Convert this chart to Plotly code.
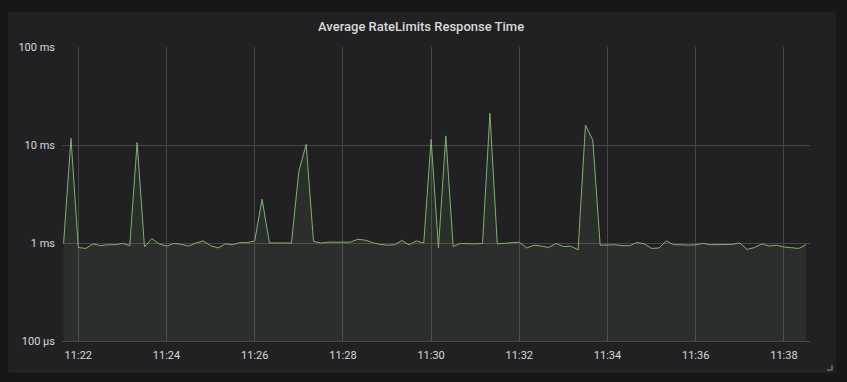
import plotly.graph_objects as go
import pandas as pd

# ---- data ----
start_time = "2019-06-01 11:21:40"
step_seconds = 10
response_ms = [
    1.00, 11.7, 0.90, 0.88, 0.98, 0.94, 0.96, 0.96, 0.99, 0.94,
    10.6, 0.91, 1.11, 0.98, 0.93, 0.99, 0.97, 0.93, 1.00, 1.05,
    0.94, 0.89, 0.98, 0.96, 1.01, 1.01, 1.05, 2.80, 1.00, 1.00,
    1.00, 1.00, 5.35, 10.2, 1.04, 1.00, 1.02, 1.02, 1.02, 1.02,
    1.09, 1.07, 1.01, 0.97, 0.95, 0.96, 1.06, 0.96, 1.05, 1.00,
    11.4, 0.89, 12.4, 0.92, 0.99, 0.98, 0.98, 0.99, 21.0, 0.98,
    0.99, 1.00, 1.02, 0.89, 0.95, 0.93, 0.90, 0.99, 0.92, 0.93,
    0.85, 16.0, 11.2, 0.95, 0.95, 0.96, 0.94, 0.94, 1.01, 0.98,
    0.88, 0.89, 1.05, 0.96, 0.96, 0.95, 0.96, 0.99, 0.96, 0.96,
    0.97, 0.97, 1.00, 0.86, 0.90, 0.98, 0.93, 0.95, 0.91, 0.89,
    0.88, 0.96,
]
times = pd.date_range(start=start_time, periods=len(response_ms), freq=f"{step_seconds}s")

y_tick_vals = [0.1, 1, 10, 100]
y_tick_text = ["100 µs", "1 ms", "10 ms", "100 ms"]
x_range = ["2019-06-01 11:21:37.8", "2019-06-01 11:38:35.5"]
title_text = "Average RateLimits Response Time"

# ---- layout geometry (pixels) ----
W, H = 847, 382
ML, MR, MT, MB = 62, 37, 47, 41
PW, PH = W - ML - MR, H - MT - MB


def px(x):
    return (x - ML) / PW


def py(y):
    return (H - MB - y) / PH


PAGE_BG = "#161719"
PANEL_BG = "#212124"
GRID = "#464648"
TEXT = "#d8d9da"
LINE = "#7eb26d"

fig = go.Figure()
fig.add_trace(go.Scatter(
    x=times, y=[y_tick_vals[0]] * len(times), mode="lines",
    line=dict(width=0, color=LINE), hoverinfo="skip", showlegend=False,
))
fig.add_trace(go.Scatter(
    x=times, y=response_ms, mode="lines",
    line=dict(color=LINE, width=1),
    fill="tonexty", fillcolor="rgba(126,178,109,0.10)",
    showlegend=False,
))

shapes = [
    # panel background
    dict(type="rect", xref="paper", yref="paper", layer="below",
         x0=px(9), x1=px(835), y0=py(372), y1=py(13),
         fillcolor=PANEL_BG, line=dict(color="#262628", width=1)),
    # resize handle corner
    dict(type="path", xref="paper", yref="paper",
         path=f"M {px(827)} {py(370)} L {px(832)} {py(370)} L {px(832)} {py(365)}",
         line=dict(color="#6e6e70", width=1.5)),
]

fig.update_layout(
    width=W, height=H,
    margin=dict(l=ML, r=MR, t=MT, b=MB, pad=0),
    paper_bgcolor=PAGE_BG,
    plot_bgcolor="rgba(0,0,0,0)",
    font=dict(family="Roboto", size=11, color=TEXT),
    shapes=shapes,
    annotations=[dict(
        text=title_text, xref="paper", yref="paper",
        x=px(421), y=py(27), xanchor="center", yanchor="middle",
        showarrow=False, font=dict(family="Roboto", size=13, color=TEXT, weight=500),
    )],
    xaxis=dict(
        type="date", range=x_range,
        tickformat="%H:%M", dtick=120000, tick0="2019-06-01 11:22:00",
        showgrid=True, gridcolor=GRID, gridwidth=1,
        zeroline=False, showline=True, linecolor=GRID, linewidth=1,
        ticks="", tickfont=dict(size=11, color=TEXT),
        ticklabelstandoff=4,
    ),
    yaxis=dict(
        type="log", range=[-1, 2],
        tickvals=y_tick_vals, ticktext=y_tick_text,
        showgrid=True, gridcolor=GRID, gridwidth=1,
        zeroline=False, showline=False,
        ticks="", tickfont=dict(size=11, color=TEXT),
        ticklabelstandoff=6,
    ),
    hovermode=False,
)

fig.write_html("out.html")
